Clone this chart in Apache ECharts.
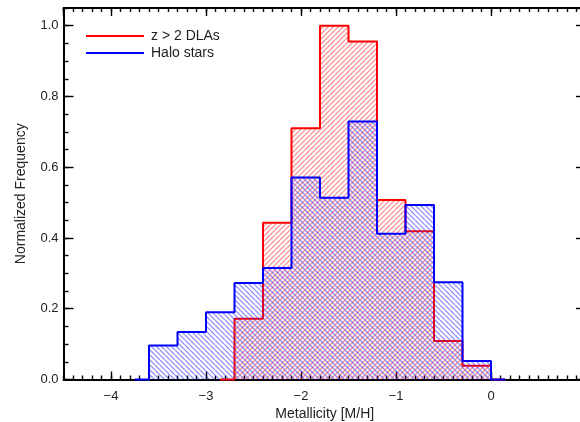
<!DOCTYPE html>
<html>
<head>
<meta charset="utf-8">
<script src="https://cdn.jsdelivr.net/npm/echarts@6/dist/echarts.min.js"></script>
<style>
html, body { margin: 0; padding: 0; background: #fff; }
#chart { width: 580px; height: 422px; }
</style>
</head>
<body>
<div id="chart"></div>
<script>
// histogram bins, width 0.3 dex
const binEdges = [-3.6, -3.3, -3.0, -2.7, -2.4, -2.1, -1.8, -1.5, -1.2, -0.9, -0.6, -0.3, 0.0];
const dlaValues = [null, null, null, 0.172, 0.443, 0.71, 1.0, 0.955, 0.507, 0.419, 0.109, 0.039];
const haloValues = [0.096, 0.134, 0.19, 0.273, 0.315, 0.571, 0.514, 0.729, 0.412, 0.493, 0.275, 0.052];
const seriesNames = ['z > 2 DLAs', 'Halo stars'];
const xRange = [-4.5, 1.0];
const yRange = [0, 1.05];

const font = 'Liberation Sans, Arial, Helvetica, sans-serif';

// outline of histogram, with a half-bin at zero on each side
function stepPoints(values) {
  const half = (binEdges[1] - binEdges[0]) / 2;
  const first = values.findIndex(v => v !== null);
  const n = values.length;
  const pts = [[binEdges[first] - half, 0]];
  for (let i = first; i < n; i++) pts.push([binEdges[i], values[i]]);
  pts.push([binEdges[n], 0]);
  pts.push([binEdges[n] + half, 0]);
  return pts;
}

function hatch(color, up) {
  const c = document.createElement('canvas');
  c.width = 5; c.height = 5;
  const g = c.getContext('2d');
  g.strokeStyle = color;
  g.lineWidth = 1.3;
  g.beginPath();
  for (let k = -5; k <= 5; k += 5) {
    if (up) { g.moveTo(k, 5); g.lineTo(k + 5, 0); }
    else { g.moveTo(k, 0); g.lineTo(k + 5, 5); }
  }
  g.stroke();
  return { image: c, repeat: 'repeat' };
}

function frameAxis(pos, range, interval, len, main) {
  return {
    type: 'value',
    position: pos,
    min: range[0],
    max: range[1],
    interval: interval,
    axisLine: { show: main, onZero: false, lineStyle: { color: '#000', width: 2 } },
    axisTick: { show: true, inside: true, length: len, lineStyle: { color: '#000', width: 1.4 } },
    axisLabel: { show: false },
    splitLine: { show: false }
  };
}

const labelStyle = { fontFamily: font, fontSize: 13, color: '#222' };

const xMain = {
  type: 'value',
  position: 'bottom',
  min: xRange[0],
  max: xRange[1],
  axisLine: { onZero: false, lineStyle: { color: '#000', width: 2 } },
  axisTick: { inside: true, length: 8, lineStyle: { color: '#000', width: 1.4 } },
  axisLabel: Object.assign({
    margin: 10,
    showMinLabel: false,
    showMaxLabel: false,
    formatter: v => Number.isInteger(v) ? String(v).replace('-', '\u2212') : ''
  }, labelStyle),
  splitLine: { show: false },
  name: 'Metallicity [M/H]',
  nameLocation: 'middle',
  nameGap: 24,
  nameTextStyle: { fontFamily: font, fontSize: 14, color: '#222' }
};

const yMain = {
  type: 'value',
  position: 'left',
  min: yRange[0],
  max: yRange[1],
  interval: 0.2,
  axisLine: { onZero: false, lineStyle: { color: '#000', width: 2 } },
  axisTick: { inside: true, length: 10, lineStyle: { color: '#000', width: 1.4 } },
  axisLabel: Object.assign({
    margin: 5,
    showMaxLabel: false,
    formatter: v => Math.abs(v * 5 - Math.round(v * 5)) < 1e-6 ? v.toFixed(1) : ''
  }, labelStyle),
  splitLine: { show: false },
  name: 'Normalized Frequency',
  nameLocation: 'middle',
  nameGap: 35,
  nameTextStyle: { fontFamily: font, fontSize: 14, color: '#222' }
};

const myChart = echarts.init(document.getElementById('chart'), null, { renderer: 'canvas' });

const option = {
  animation: false,
  grid: { left: 63.5, width: 522.5, top: 8, bottom: 42.5, containLabel: false, outerBoundsMode: 'none' },
  legend: {
    orient: 'vertical',
    left: 80,
    top: 24,
    itemWidth: 58,
    itemHeight: 2,
    itemGap: 3,
    data: seriesNames,
    textStyle: { fontFamily: font, fontSize: 14, color: '#222', padding: [0, 0, 0, 2] }
  },
  xAxis: [
    xMain,
    frameAxis('bottom', xRange, 0.1, 4, false),
    frameAxis('top', xRange, undefined, 8, true),
    frameAxis('top', xRange, 0.1, 4, false)
  ],
  yAxis: [
    yMain,
    frameAxis('left', yRange, 0.05, 5, false),
    frameAxis('right', yRange, 0.2, 10, true),
    frameAxis('right', yRange, 0.05, 5, false)
  ],
  series: [
    {
      name: seriesNames[0],
      type: 'line',
      step: 'end',
      symbol: 'none',
      clip: false,
      z: 5,
      data: stepPoints(dlaValues),
      lineStyle: { color: '#ff0000', width: 2 },
      itemStyle: { color: '#ff0000' },
      areaStyle: { color: hatch('rgba(255,40,40,0.5)', true), opacity: 1 }
    },
    {
      name: seriesNames[1],
      type: 'line',
      step: 'end',
      symbol: 'none',
      clip: false,
      z: 6,
      data: stepPoints(haloValues),
      lineStyle: { color: '#0000ff', width: 2 },
      itemStyle: { color: '#0000ff' },
      areaStyle: { color: hatch('rgba(40,40,255,0.5)', false), opacity: 1 }
    }
  ]
};

if (option && typeof option === 'object') {
  myChart.setOption(option);
}
window.addEventListener('resize', myChart.resize);
</script>
</body>
</html>
